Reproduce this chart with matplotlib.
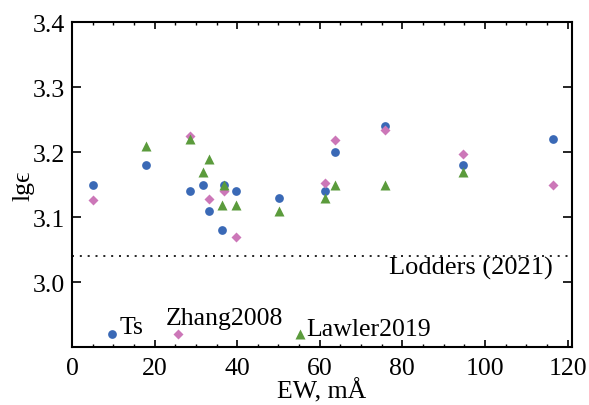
import matplotlib
matplotlib.use("Agg")
import matplotlib.pyplot as plt
from matplotlib.ticker import MultipleLocator

plt.rcParams['font.family'] = ['Liberation Serif', 'DejaVu Serif']
plt.rcParams['mathtext.fontset'] = 'stix'

# Data
ts_ew = [5.1, 17.9, 28.6, 31.8, 33.2, 36.8, 36.4, 39.7, 50.2, 61.2, 63.8, 75.7, 94.7, 116.4]
ts_val = [3.150, 3.180, 3.140, 3.150, 3.110, 3.150, 3.081, 3.140, 3.130, 3.140, 3.200, 3.240, 3.180, 3.220]

zh_ew = [5.1, 28.6, 33.2, 36.8, 39.7, 61.2, 63.8, 75.7, 94.7, 116.4]
zh_val = [3.127, 3.225, 3.128, 3.141, 3.070, 3.153, 3.219, 3.235, 3.197, 3.150]

la_ew = [17.9, 28.6, 31.8, 33.2, 36.8, 36.4, 39.7, 50.2, 61.2, 63.8, 75.7, 94.7]
la_val = [3.210, 3.220, 3.169, 3.189, 3.149, 3.119, 3.119, 3.109, 3.129, 3.150, 3.150, 3.170]

lodders = 3.04

legend_names = ["Ts", "Zhang2008", "Lawler2019"]
legend_marker_x = [9.8, 25.6, 55.2]
legend_marker_y = [2.920, 2.920, 2.920]

c_blue = "#3a69b6"
c_pink = "#cc77b8"
c_green = "#5b9b3c"

FS = 18.5

fig = plt.figure(figsize=(5.89, 4.06), dpi=100)
ax = fig.add_axes([0.1222, 0.1421, 0.9706 - 0.1222, 0.9426 - 0.1421])

ax.plot(ts_ew, ts_val, 'o', color=c_blue, ms=6.3, mec='none', zorder=3)
ax.plot(zh_ew, zh_val, 'D', color=c_pink, ms=5.4, mec='none', zorder=4)
ax.plot(la_ew, la_val, '^', color=c_green, ms=7.0, mec='none', zorder=5)

ax.axhline(lodders, color='black', ls=(0, (1.2, 3.5)), lw=1.2)
ax.text(116.3, 3.013, "Lodders (2021)", ha='right', va='baseline', fontsize=19)

# in-plot legend
ax.plot([legend_marker_x[0]], [legend_marker_y[0]], 'o', color=c_blue, ms=6.3, mec='none', clip_on=False)
ax.plot([legend_marker_x[1]], [legend_marker_y[1]], 'D', color=c_pink, ms=5.4, mec='none', clip_on=False)
ax.plot([legend_marker_x[2]], [legend_marker_y[2]], '^', color=c_green, ms=7.0, mec='none', clip_on=False)
ax.text(11.6, 2.922, legend_names[0], ha='left', va='baseline', fontsize=FS)
ax.text(22.8, 2.936, legend_names[1], ha='left', va='baseline', fontsize=FS)
ax.text(56.7, 2.919, legend_names[2], ha='left', va='baseline', fontsize=FS)

ax.set_xlim(0, 121)
ax.set_ylim(2.9, 3.4)
ax.xaxis.set_major_locator(MultipleLocator(20))
ax.xaxis.set_minor_locator(MultipleLocator(5))
ax.set_yticks([3.0, 3.1, 3.2, 3.3, 3.4])
ax.set_yticklabels(["3.0", "3.1", "3.2", "3.3", "3.4"])

ax.tick_params(axis='x', which='major', direction='in', length=5, width=1.2,
               top=True, bottom=True, labelsize=FS, pad=7)
ax.tick_params(axis='x', which='minor', direction='in', length=2.5, width=1.0,
               top=True, bottom=True)
ax.tick_params(axis='y', which='major', direction='in', length=6.5, width=1.2,
               left=True, right=True, labelsize=FS, pad=5)
for s in ax.spines.values():
    s.set_linewidth(1.5)

ax.set_xlabel("EW, mÅ", fontsize=FS, labelpad=-1)
ax.set_ylabel("lg\u03f5", fontsize=FS, labelpad=-1)

fig.savefig("out.png", dpi=100)
